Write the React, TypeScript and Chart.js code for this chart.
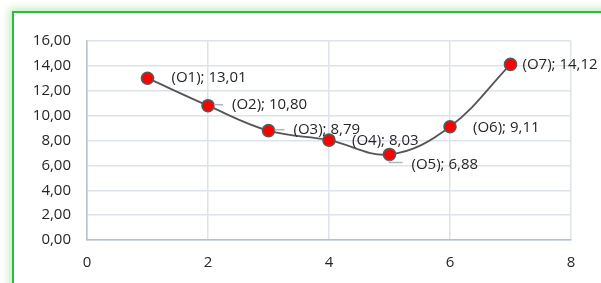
import React, { useEffect, useRef } from "react";
import { Chart, registerables } from "chart.js";

Chart.register(...registerables);

const pointNames = ["O1", "O2", "O3", "O4", "O5", "O6", "O7"];
const xValues = [1, 2, 3, 4, 5, 6, 7];
const yValues = [13.01, 10.8, 8.79, 8.03, 6.88, 9.11, 14.12];

const FONT = "'Open Sans', sans-serif";
const TEXT = "#262626";

const fmt = (v: number) => v.toFixed(2).replace(".", ",");

const labelLayout = [
  { dx: 24, dy: 0, leader: false },
  { dx: 24, dy: -1, leader: true },
  { dx: 25, dy: -1, leader: true },
  { dx: 23, dy: 1, leader: false },
  { dx: 22, dy: 10, leader: true },
  { dx: 23, dy: 1, leader: false },
  { dx: 12, dy: 0, leader: false },
];

const labelPlugin = {
  id: "pointLabels",
  afterDatasetsDraw(chart: any) {
    const meta = chart.getDatasetMeta(0);
    const ctx = chart.ctx;
    ctx.save();
    meta.data.forEach((el: any, i: number) => {
      const lay = labelLayout[i];
      const px = el.x;
      const py = el.y;
      const tx = px + lay.dx;
      const ty = py + lay.dy;
      if (lay.leader) {
        ctx.strokeStyle = "#aab6c6";
        ctx.lineWidth = 1.5;
        ctx.beginPath();
        if (lay.dy > 5) {
          ctx.moveTo(px, py + 6);
          ctx.lineTo(px, ty - 2);
          ctx.lineTo(tx - 9, ty - 2);
        } else {
          ctx.moveTo(px + 6, ty);
          ctx.lineTo(tx - 9, ty);
        }
        ctx.stroke();
      }
      ctx.fillStyle = TEXT;
      ctx.font = `15px ${FONT}`;
      ctx.textAlign = "left";
      ctx.textBaseline = "middle";
      ctx.fillText(`(${pointNames[i]}); ${fmt(yValues[i])}`, tx, ty);
    });
    ctx.restore();
  },
};

export default function App() {
  const ref = useRef<HTMLCanvasElement>(null);
  useEffect(() => {
    const chart = new Chart(ref.current!, {
      type: "scatter",
      data: {
        datasets: [
          {
            data: xValues.map((x, i) => ({ x, y: yValues[i] })),
            showLine: true,
            borderColor: "#555555",
            borderWidth: 1.8,
            tension: 0.38,
            pointRadius: 6,
            pointBackgroundColor: "#ff0000",
            pointBorderColor: "#585858",
            pointBorderWidth: 1.6,
          },
        ],
      },
      options: {
        responsive: false,
        animation: false,
        layout: { padding: { top: 41, right: 30, left: 0, bottom: 0 } },
        plugins: { legend: { display: false }, tooltip: { enabled: false } },
        scales: {
          x: {
            type: "linear",
            min: 0,
            max: 8,
            ticks: { stepSize: 2, padding: 14, color: TEXT, font: { family: FONT, size: 15 } },
            grid: { color: "#dde3ea", lineWidth: 1.5, drawTicks: false },
            border: { color: "#b4bfcf", width: 1.5 },
            afterFit: (s: any) => {
              s.height = 43;
            },
          },
          y: {
            min: 0,
            max: 16,
            ticks: {
              stepSize: 2,
              padding: 16,
              color: TEXT,
              font: { family: FONT, size: 15 },
              callback: (v: any) => fmt(Number(v)),
            },
            grid: { color: "#dde3ea", lineWidth: 1.5, drawTicks: false },
            border: { color: "#b4bfcf", width: 1.5 },
            afterFit: (s: any) => {
              s.width = 87;
            },
          },
        },
      },
      plugins: [labelPlugin],
    });
    return () => chart.destroy();
  }, []);

  return (
    <div
      style={{
        position: "fixed",
        left: 0,
        top: 0,
        width: 601,
        height: 283,
        overflow: "hidden",
        background: "#fff",
      }}
    >
      <div
        style={{
          position: "absolute",
          left: 12,
          top: 11,
          width: 700,
          height: 400,
          border: "2px solid #2fb84a",
          boxShadow: "0 0 7px 3px rgba(150,225,130,0.55)",
          background: "#fff",
        }}
      />
      <canvas
        ref={ref}
        width={601}
        height={283}
        style={{ position: "absolute", left: 0, top: 0 }}
      />
    </div>
  );
}
